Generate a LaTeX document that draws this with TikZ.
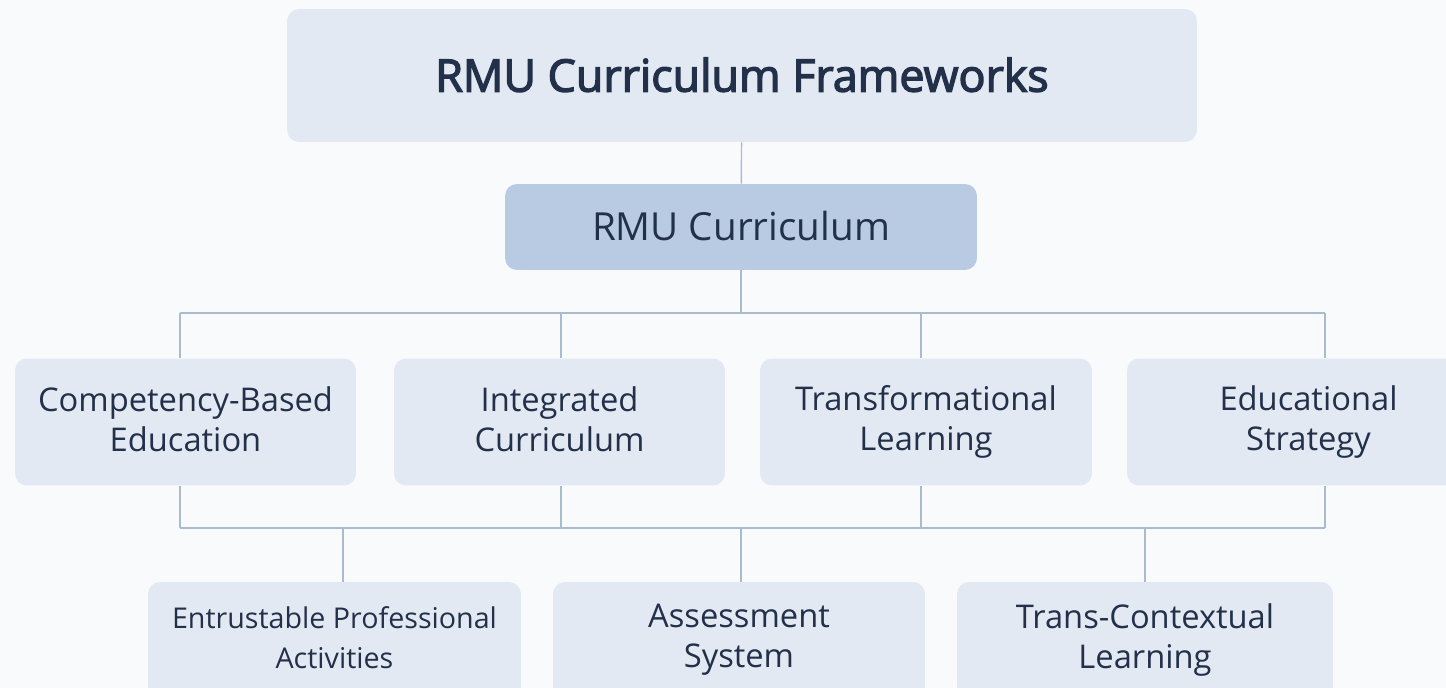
\documentclass[tikz,border=0pt]{standalone}
\usepackage{fontspec}
\setmainfont{Open Sans}
\newfontfamily\titlefont[FakeBold=3]{Open Sans}
\usepackage{tikz}
\definecolor{bgcol}{HTML}{F9FAFC}
\definecolor{boxcol}{HTML}{E3E9F2}
\definecolor{midcol}{HTML}{B8CBE3}
\definecolor{linecol}{HTML}{AABBD0}
\definecolor{txtcol}{HTML}{22304A}
\newcommand\boxstrut{\rule[-0.18em]{0pt}{1.08em}}
\begin{document}
\begin{tikzpicture}[x=0.02cm,y=-0.02cm,
  box/.style = {rounded corners=0.24cm, fill=boxcol, text=txtcol, align=center, inner sep=0pt,
                font=\fontsize{18.6}{23}\selectfont, execute at begin node=\boxstrut, execute at end node=\boxstrut}]
				\fill[bgcol] (0,0) rectangle (1446,688);
				\useasboundingbox (0,0) rectangle (1446,688);
				\begin{scope}[every node/.style={box}]
					\node[minimum width=18.2cm, minimum height=2.66cm, font=\fontsize{25.5}{30}\selectfont\titlefont] (top) at (742,75.5) {RMU Curriculum Frameworks};
					\node[fill=midcol, minimum width=9.44cm, minimum height=1.72cm, font=\fontsize{22}{26}\selectfont] (curr) at (741,227) {RMU Curriculum};
					\node[minimum width=6.82cm, minimum height=2.54cm] (cbe) at (185.5,422) {Competency-Based\\Education};
					\node[minimum width=6.62cm, minimum height=2.54cm] (integ) at (559.5,422) {Integrated\\Curriculum};
					\node[minimum width=6.64cm, minimum height=2.54cm] (trans) at (926,422) {Transformational\\Learning};
					\node[minimum width=7.26cm, minimum height=2.54cm] (strat) at (1308.5,422) {Educational\\Strategy};
					\node[minimum width=7.46cm, minimum height=2.32cm, font=\fontsize{16.3}{23}\selectfont] (epa) at (334.5,640) {Entrustable Professional\\Activities};
					\node[minimum width=7.44cm, minimum height=2.32cm] (assess) at (739,640) {Assessment\\System};
					\node[minimum width=7.52cm, minimum height=2.32cm] (tcl) at (1145,640) {Trans-Contextual\\Learning};
				\end{scope}
				\coordinate (a1) at (180,313);
				\coordinate (a2) at (561,313);
				\coordinate (a3) at (921,313);
				\coordinate (a4) at (1325,313);
				\coordinate (c1) at (180,528);
				\coordinate (c2) at (561,528);
				\coordinate (c3) at (921,528);
				\coordinate (c4) at (1325,528);
				\coordinate (d1) at (343,528);
				\coordinate (d2) at (741,528);
				\coordinate (d3) at (1145,528);
				\draw [thick,linecol] (top) -- (curr);
				\draw [thick,linecol] (curr) -- (curr |- a1);
				\draw [thick,linecol] (a1) -- (a4);
				\draw [thick,linecol] (a1) -- (a1 |- cbe.north);
				\draw [thick,linecol] (a2) -- (a2 |- integ.north);
				\draw [thick,linecol] (a3) -- (a3 |- trans.north);
				\draw [thick,linecol] (a4) -- (a4 |- strat.north);
				\draw [thick,linecol] (c1 |- cbe.south) -- (c1);
				\draw [thick,linecol] (c2 |- integ.south) -- (c2);
				\draw [thick,linecol] (c3 |- trans.south) -- (c3);
				\draw [thick,linecol] (c4 |- strat.south) -- (c4);
				\draw [thick,linecol] (c1) -- (c4);
				\draw [thick,linecol] (d1) -- (d1 |- epa.north);
				\draw [thick,linecol] (d2) -- (d2 |- assess.north);
				\draw [thick,linecol] (d3) -- (d3 |- tcl.north);
			\end{tikzpicture}
\end{document}
